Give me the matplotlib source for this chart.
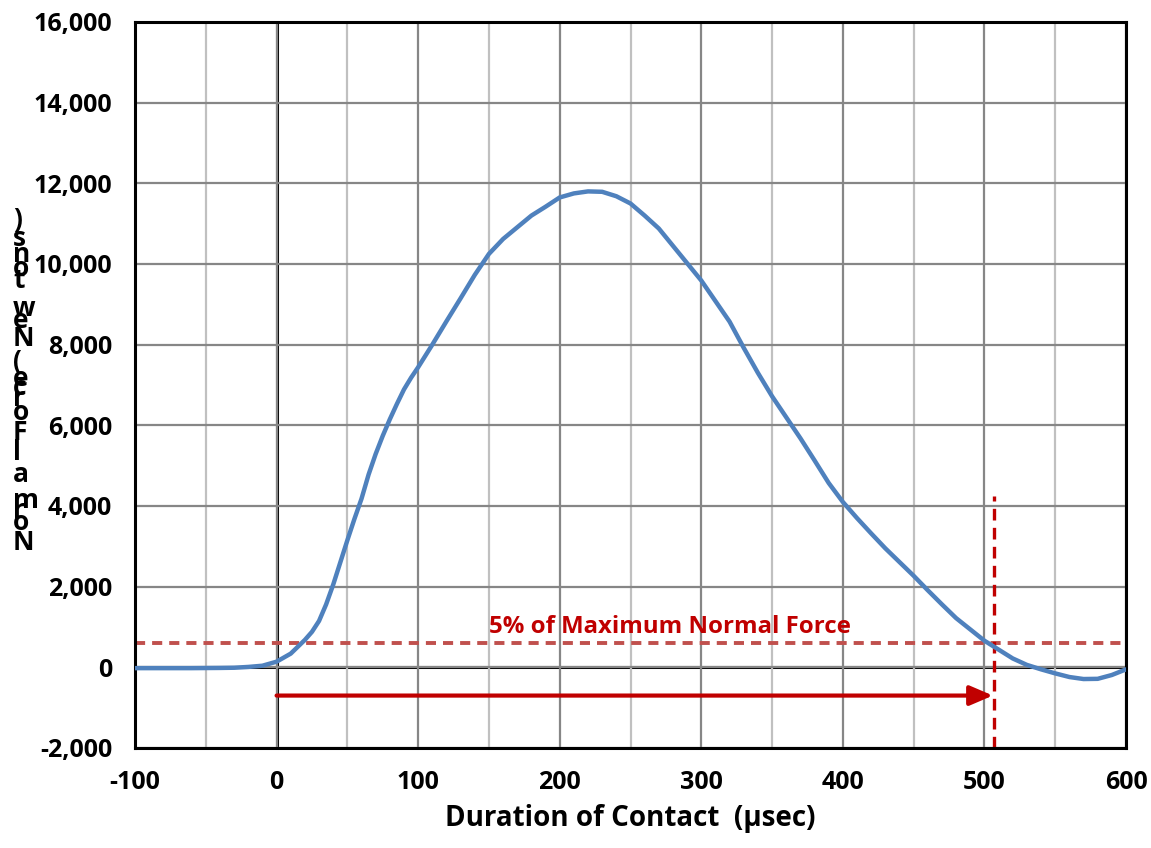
import matplotlib
matplotlib.use("Agg")
import matplotlib.pyplot as plt
from matplotlib.ticker import FuncFormatter, MultipleLocator

plt.rcParams['font.family'] = ['Open Sans', 'DejaVu Sans']
plt.rcParams['font.weight'] = 'bold'
plt.rcParams['axes.unicode_minus'] = False

# ---- data ----
time_us = [-100, -80, -60, -40, -30, -20, -10, 0, 10, 20, 25, 30, 35, 40, 45, 50, 55,
           60, 65, 70, 75, 80, 85, 90, 95, 100, 110, 120, 130, 140, 150, 160, 170, 180,
           190, 200, 210, 220, 230, 240, 250, 260, 270, 280, 290, 300, 310, 320, 330,
           340, 350, 360, 370, 380, 390, 400, 410, 420, 430, 440, 450, 460, 470, 480,
           490, 500, 510, 520, 530, 540, 550, 560, 570, 580, 590, 600]
force_n = [-20, -20, -20, -15, -10, 10, 40, 140, 340, 680, 880, 1150, 1560, 2050, 2600,
           3150, 3680, 4180, 4780, 5290, 5740, 6150, 6530, 6890, 7180, 7440, 8000, 8580,
           9150, 9730, 10250, 10620, 10910, 11200, 11420, 11650, 11750, 11800, 11790,
           11680, 11500, 11200, 10880, 10450, 10020, 9590, 9080, 8570, 7920, 7300, 6720,
           6200, 5680, 5130, 4570, 4100, 3700, 3320, 2950, 2610, 2270, 1910, 1560, 1220,
           940, 660, 440, 220, 60, -50, -150, -240, -290, -285, -190, -50]

threshold_force = 592        # 5% of maximum normal force
end_time = 507               # time where force drops below 5%
vline_top = 4250
arrow_y = -700
annot_text = "5% of Maximum Normal Force"
annot_x, annot_y = 278, 990
x_ticks = list(range(-100, 601, 100))
y_ticks = list(range(-2000, 16001, 2000))
xlabel = "Duration of Contact  (µsec)"
ylabel_chars = [")", "s", "n", "o", "t", "w", "e", "N", "(", "e", "c", "r", "o", "F",
                "l", "a", "m", "r", "o", "N"]
ylabel_ypix = [220, 238, 254, 268, 280, 308, 321, 339, 362, 379, 388, 398, 413, 432,
               452, 474, 500, 510, 523, 543]

W, H = 1151, 848
fig = plt.figure(figsize=(W / 100, H / 100), dpi=100)
ax = fig.add_axes([135 / W, 1 - 748 / H, (1126 - 135) / W, (748 - 22) / H])

ax.set_xlim(-100, 600)
ax.set_ylim(-2000, 16000)
ax.set_xticks(x_ticks)
ax.set_yticks(y_ticks)
ax.xaxis.set_minor_locator(MultipleLocator(50))
ax.grid(which='major', axis='both', color='#868686', linewidth=1.6, zorder=0)
ax.grid(which='minor', axis='x', color='#c0c0c0', linewidth=1.6, zorder=0)
ax.tick_params(which='both', length=0)
ax.tick_params(axis='y', pad=16.5, labelsize=18)
ax.tick_params(axis='x', pad=16, labelsize=18)
ax.yaxis.set_major_formatter(FuncFormatter(lambda v, p: f"{int(v):,}"))
for lab in ax.get_xticklabels() + ax.get_yticklabels():
    lab.set_fontweight('bold')
for s in ax.spines.values():
    s.set_linewidth(2.2)
    s.set_color('black')

ax.axhline(0, color='black', linewidth=2.2, zorder=1)
ax.axvline(0, color='black', linewidth=2.2, zorder=1)

ax.axhline(threshold_force, color='#c0504d', linewidth=2.8, dashes=(2.6, 1.8), zorder=2)
ax.plot([end_time, end_time], [-2000, vline_top], color='#c00000', linewidth=2.4,
        dashes=(3.5, 2.2), zorder=2, clip_on=False)

ax.plot(time_us, force_n, color='#4f81bd', linewidth=3.2, zorder=3,
        solid_joinstyle='round', solid_capstyle='round')

ax.annotate('', xy=(end_time - 1, arrow_y), xytext=(0, arrow_y),
            arrowprops=dict(arrowstyle='-|>,head_length=1.4,head_width=0.6',
                            color='#c00000', linewidth=3.0, shrinkA=0, shrinkB=0),
            zorder=4)

ax.text(annot_x, annot_y, annot_text, color='#c00000', fontsize=17.3,
        fontweight='bold', ha='center', va='center', zorder=4)

ax.set_xlabel(xlabel, fontsize=20, fontweight='bold', labelpad=6)

for ch, yp in zip(ylabel_chars, ylabel_ypix):
    fig.text(13 / W, 1 - yp / H, ch, fontsize=19, fontweight='bold',
             ha='left', va='center')

fig.savefig('out.png', dpi=100)
